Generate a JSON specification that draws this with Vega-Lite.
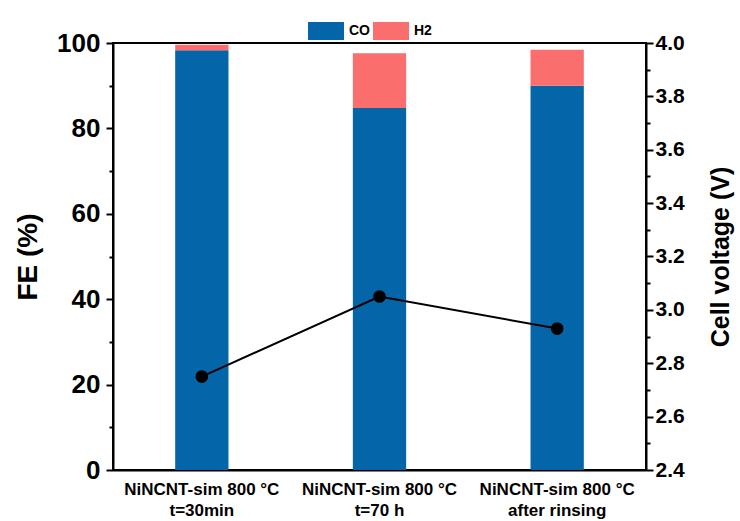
{
  "$schema": "https://vega.github.io/schema/vega-lite/v6.json",
  "width": 533,
  "height": 427,
  "autosize": {"type": "none"},
  "padding": {"left": 113, "top": 43, "right": 94, "bottom": 51},
  "config": {
    "font": "Liberation Sans",
    "view": {"stroke": "black", "strokeWidth": 2},
    "axis": {
      "domainColor": "black",
      "domainWidth": 2,
      "tickColor": "black",
      "tickWidth": 2,
      "labelColor": "black",
      "titleColor": "black",
      "labelFontWeight": "bold",
      "titleFontWeight": "bold",
      "grid": false
    }
  },
  "datasets": {
    "fe": [
      {"sample": "NiNCNT-sim 800 °C|t=30min", "product": "CO", "fe": 98.3},
      {"sample": "NiNCNT-sim 800 °C|t=30min", "product": "H2", "fe": 1.3},
      {"sample": "NiNCNT-sim 800 °C|t=70 h", "product": "CO", "fe": 84.8},
      {"sample": "NiNCNT-sim 800 °C|t=70 h", "product": "H2", "fe": 12.8},
      {"sample": "NiNCNT-sim 800 °C|after rinsing", "product": "CO", "fe": 90.0},
      {"sample": "NiNCNT-sim 800 °C|after rinsing", "product": "H2", "fe": 8.4}
    ],
    "voltage": [
      {"sample": "NiNCNT-sim 800 °C|t=30min", "voltage": 2.75},
      {"sample": "NiNCNT-sim 800 °C|t=70 h", "voltage": 3.05},
      {"sample": "NiNCNT-sim 800 °C|after rinsing", "voltage": 2.93}
    ]
  },
  "layer": [
    {
      "data": {"name": "fe"},
      "mark": {"type": "bar"},
      "encoding": {
        "x": {
          "field": "sample",
          "type": "nominal",
          "sort": null,
          "scale": {"paddingInner": 0.7, "paddingOuter": 0.35},
          "axis": {
            "title": null,
            "labelAngle": 0,
            "ticks": false,
            "labelPadding": 11,
            "labelFontSize": 17,
            "labelLineHeight": 21,
            "labelExpr": "split(datum.label, '|')"
          }
        },
        "y": {
          "field": "fe",
          "type": "quantitative",
          "stack": "zero",
          "scale": {"domain": [0, 100], "nice": false},
          "axis": {
            "title": "FE (%)",
            "orient": "left",
            "values": [0, 10, 20, 30, 40, 50, 60, 70, 80, 90, 100],
            "labelExpr": "datum.value % 20 === 0 ? datum.label : ''",
            "tickSize": {"condition": {"test": "datum.value % 20 === 0", "value": 7}, "value": 4},
            "labelFontSize": 26,
            "labelPadding": 6,
            "titleFontSize": 28,
            "titlePadding": 14
          }
        },
        "color": {
          "field": "product",
          "type": "nominal",
          "scale": {"domain": ["CO", "H2"], "range": ["#0466A9", "#FA6E6E"]},
          "legend": {
            "title": null,
            "orient": "none",
            "direction": "horizontal",
            "legendX": 195,
            "legendY": -30,
            "symbolType": "M-1,-0.5H1V0.5H-1Z",
            "symbolSize": 1296,
            "symbolStrokeWidth": 0,
            "labelFontSize": 14,
            "labelFontWeight": "bold",
            "labelColor": "black",
            "labelOffset": 5,
            "columnPadding": 3
          }
        },
        "order": {"field": "product", "sort": "ascending"}
      }
    },
    {
      "data": {"name": "voltage"},
      "encoding": {
        "x": {"field": "sample", "type": "nominal", "sort": null},
        "y": {
          "field": "voltage",
          "type": "quantitative",
          "scale": {"domain": [2.4, 4.0], "nice": false, "zero": false},
          "axis": {
            "title": "Cell voltage (V)",
            "orient": "right",
            "values": [2.4, 2.5, 2.6, 2.7, 2.8, 2.9, 3.0, 3.1, 3.2, 3.3, 3.4, 3.5, 3.6, 3.7, 3.8, 3.9, 4.0],
            "format": ".1f",
            "labelExpr": "round(datum.value * 10) % 2 === 0 ? datum.label : ''",
            "tickSize": {"condition": {"test": "round(datum.value * 10) % 2 === 0", "value": 7}, "value": 4},
            "labelFontSize": 21,
            "labelPadding": 2,
            "titleFontSize": 25,
            "titleAngle": 270,
            "titleBaseline": "top",
            "titlePadding": 24
          }
        }
      },
      "layer": [
        {"mark": {"type": "line", "color": "black", "strokeWidth": 2}},
        {"mark": {"type": "point", "filled": true, "color": "black", "opacity": 1, "size": 160}}
      ]
    }
  ],
  "resolve": {"scale": {"y": "independent"}}
}
